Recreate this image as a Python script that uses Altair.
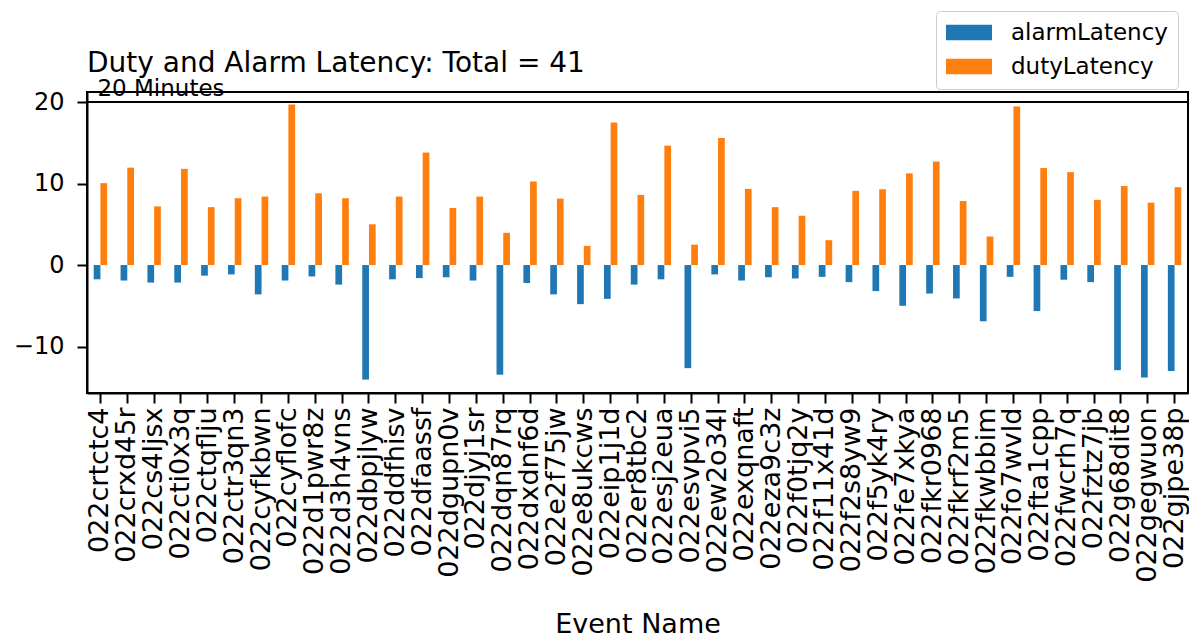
import altair as alt
import pandas as pd

# Event identifiers along the x axis
events = [
    "022crtctc4", "022crxd45r", "022cs4ljsx", "022cti0x3q", "022ctqflju",
    "022ctr3qn3", "022cyfkbwn", "022cyflofc", "022d1pwr8z", "022d3h4vns",
    "022dbpjlyw", "022ddfhisv", "022dfaassf", "022dgupn0v", "022djyj1sr",
    "022dqn87rq", "022dxdnf6d", "022e2f75jw", "022e8ukcws", "022eip1j1d",
    "022er8tbc2", "022esj2eua", "022esvpvi5", "022ew2o34l", "022exqnaft",
    "022eza9c3z", "022f0tjq2y", "022f11x41d", "022f2s8yw9", "022f5yk4ry",
    "022fe7xkya", "022fkr0968", "022fkrf2m5", "022fkwbbim", "022fo7wvld",
    "022fta1cpp", "022fwcrh7q", "022fztz7jb", "022g68dit8", "022gegwuon",
    "022gjpe38p",
]

# Alarm latency (plotted as negative minutes)
alarm_latency = [
    -1.75, -1.9, -2.15, -2.15, -1.3, -1.15, -3.6, -1.9, -1.4, -2.4,
    -14.05, -1.75, -1.6, -1.5, -1.9, -13.45, -2.2, -3.6, -4.8, -4.15,
    -2.4, -1.75, -12.65, -1.15, -1.9, -1.5, -1.65, -1.45, -2.1, -3.2,
    -5.0, -3.5, -4.1, -6.9, -1.45, -5.65, -1.8, -2.1, -12.9, -13.8,
    -13.0,
]

# Duty latency in minutes
duty_latency = [
    10.05, 11.95, 7.2, 11.8, 7.1, 8.2, 8.4, 19.7, 8.8, 8.2,
    5.0, 8.4, 13.8, 7.0, 8.4, 3.95, 10.25, 8.15, 2.35, 17.5,
    8.6, 14.65, 2.5, 15.6, 9.35, 7.1, 6.05, 3.05, 9.1, 9.3,
    11.25, 12.7, 7.85, 3.5, 19.45, 11.9, 11.4, 8.0, 9.7, 7.65,
    9.55,
]

series_names = ["alarmLatency", "dutyLatency"]
series_colors = ["#1f77b4", "#ff7f0e"]
limit_value = 20
limit_label = "20 Minutes"
chart_title = "Duty and Alarm Latency: Total = 41"

rows = []
for i, ev in enumerate(events):
    rows.append({"event": ev, "series": "alarmLatency", "value": alarm_latency[i]})
    rows.append({"event": ev, "series": "dutyLatency", "value": duty_latency[i]})
df = pd.DataFrame(rows)

FONT = "DejaVu Sans"

x_enc = alt.X(
    "event:N",
    sort=events,
    scale=alt.Scale(paddingInner=0, paddingOuter=0),
    axis=alt.Axis(
        title="Event Name",
        labelAngle=270,
        labelFontSize=27,
        labelColor="black",
        labelPadding=4,
        tickSize=10,
        tickWidth=2,
        tickColor="black",
        domain=True,
        domainColor="black",
        domainWidth=2,
        titleFontSize=27,
        titleFontWeight="normal",
        titleColor="black",
        titlePadding=29,
        labelFont=FONT,
        titleFont=FONT,
    ),
)

y_enc = alt.Y(
    "value:Q",
    scale=alt.Scale(domain=[-15.7, 21.23], nice=False, zero=False),
    axis=alt.Axis(
        title=None,
        values=[-10, 0, 10, 20],
        labelExpr="replace(datum.label, '-', '\u2212')",
        labelFontSize=24,
        labelColor="black",
        labelPadding=13,
        tickSize=10,
        tickWidth=2,
        tickColor="black",
        domain=True,
        domainColor="black",
        domainWidth=2,
        grid=False,
        labelFont=FONT,
    ),
)

bars = alt.Chart(df).mark_bar().encode(
    x=x_enc,
    xOffset=alt.XOffset(
        "series:N",
        sort=series_names,
        scale=alt.Scale(paddingInner=0, paddingOuter=1),
    ),
    y=y_enc,
    y2=alt.datum(0),
    color=alt.Color(
        "series:N",
        sort=series_names,
        scale=alt.Scale(domain=series_names, range=series_colors),
        legend=alt.Legend(
            title=None,
            orient="none",
            legendX=849,
            legendY=-81,
            # wide flat swatch, drawn to the right of the symbol anchor
            symbolType="M-1,-0.68H3V0.68H-1Z",
            symbolSize=529,
            symbolStrokeWidth=0,
            symbolOpacity=1,
            labelFontSize=23,
            labelFont=FONT,
            labelColor="black",
            labelOffset=42,
            rowPadding=10,
            padding=10,
            strokeColor="#cccccc",
            fillColor="white",
            cornerRadius=4,
        ),
    ),
)

limit_df = pd.DataFrame({"event": [events[0]], "value": [limit_value], "label": [limit_label]})

limit_rule = alt.Chart(limit_df).mark_rule(color="black", strokeWidth=2).encode(
    y=alt.Y("value:Q")
)

limit_text = alt.Chart(limit_df).mark_text(
    align="left",
    baseline="alphabetic",
    fontSize=23,
    font=FONT,
    color="black",
    dx=-3,
    dy=-6.5,
).encode(
    x=alt.X("event:N", sort=events, bandPosition=0.5),
    y=alt.Y("value:Q"),
    text="label:N",
)

# chart heading drawn as text just above the plot frame
title_df = pd.DataFrame({"label": [chart_title]})
title_text = alt.Chart(title_df).mark_text(
    align="left",
    baseline="alphabetic",
    fontSize=28,
    font=FONT,
    color="black",
).encode(
    x=alt.value(0),
    y=alt.value(-20),
    text="label:N",
)

chart = (
    alt.layer(bars, limit_rule, limit_text, title_text)
    .properties(
        width=1101,
        height=301,
        autosize=alt.AutoSizeParams(type="none"),
        padding={"left": 87, "top": 92, "right": 1, "bottom": 246},
        view=alt.ViewBackground(stroke="black", strokeWidth=2),
    )
    .configure_view(stroke="black", strokeWidth=2)
    .configure(background="white")
)

chart.save("out.html", embed_options={"renderer": "svg", "actions": False})
